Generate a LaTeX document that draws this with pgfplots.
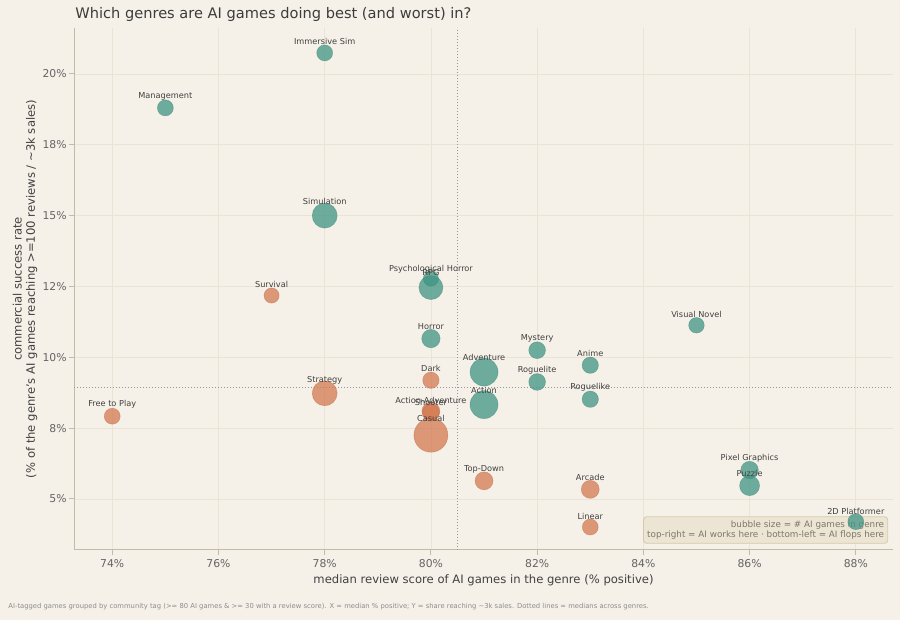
\documentclass[border=0pt]{standalone}
\usepackage{fontspec}
\setmainfont{DejaVu Sans}
\usepackage{pgfplots}
\usepackage{pgfplotstable}
\pgfplotsset{compat=1.18}
\definecolor{bg}{RGB}{246,241,232}
\definecolor{tealc}{RGB}{62,148,132}
\definecolor{orc}{RGB}{212,120,80}
\definecolor{gridc}{RGB}{234,227,214}
\definecolor{spine}{RGB}{196,186,168}
\definecolor{tickc}{RGB}{100,100,100}
\definecolor{labc}{RGB}{64,64,64}
\definecolor{boxfill}{RGB}{237,228,210}
\definecolor{boxdraw}{RGB}{214,200,170}
\definecolor{medc}{RGB}{150,150,150}

\pgfplotstableread[col sep=comma]{
x,y,r,dy,label
78,20.74,4.0,5.6,Immersive Sim
75,18.80,4.0,5.8,Management
78,15.00,6.25,7.1,Simulation
80,12.46,6.0,9.3,Psychological Horror
80,12.78,3.8,2.9,RPG
80,10.66,4.6,5.8,Horror
81,9.48,7.0,7.2,Adventure
81,8.33,7.0,7.0,Action
82,10.25,4.2,5.7,Mystery
82,9.13,4.2,5.7,Roguelite
83,9.72,4.1,5.8,Anime
83,8.52,4.1,5.8,Roguelike
85,11.13,3.9,5.5,Visual Novel
86,6.02,4.4,5.8,Pixel Graphics
86,5.47,5.0,6.3,Puzzle
88,4.20,4.0,5.2,2D Platformer
}\tealdata

\pgfplotstableread[col sep=comma]{
x,y,r,dy,label
77,12.18,3.8,5.6,Survival
78,8.73,6.25,6.5,Strategy
74,7.92,4.0,5.8,Free to Play
80,9.19,4.1,5.8,Dark
80,8.10,4.5,5.5,Action-Adventure
80,8.05,4.2,5.3,Shooter
80,7.25,8.5,8.3,Casual
81,5.64,4.5,5.8,Top-Down
83,5.34,4.5,5.8,Arcade
83,4.01,4.0,5.3,Linear
}\ordata

\begin{document}
\begin{tikzpicture}
\fill[bg] (0,0) rectangle (450pt,310pt);
\begin{axis}[
  at={(37pt,35pt)}, anchor=south west,
  scale only axis, width=409.5pt, height=261pt,
  xmin=73.28, xmax=88.70, ymin=3.20, ymax=21.62,
  axis x line*=bottom, axis y line*=left,
  axis line style={spine, line width=0.5pt, -},
  xtick={74,76,78,80,82,84,86,88},
  xticklabels={74\%,76\%,78\%,80\%,82\%,84\%,86\%,88\%},
  ytick={5,7.5,10,12.5,15,17.5,20},
  yticklabels={5\%,8\%,10\%,12\%,15\%,18\%,20\%},
  tick align=outside, major tick length=2.5pt,
  tick style={spine, line width=0.5pt},
  ticklabel style={font=\fontsize{5.4}{6.5}\selectfont, text=tickc},
  xticklabel style={yshift=1.3pt},
  yticklabel style={xshift=2.3pt},
  grid=major, grid style={gridc, line width=0.4pt},
  /pgf/number format/assume math mode=true,
  clip=false,
]
\addplot[medc, line width=0.5pt, dash pattern=on 0.6pt off 0.9pt] coordinates {(80.5,3.20) (80.5,21.62)};
\addplot[medc, line width=0.5pt, dash pattern=on 0.6pt off 0.9pt] coordinates {(73.28,8.94) (88.70,8.94)};

\addplot[scatter, only marks, mark=*,
  scatter/use mapped color={draw=tealc!85!black, draw opacity=0.4, fill=tealc, fill opacity=0.74},
  visualization depends on={\thisrow{r} \as \rad},
  scatter/@pre marker code/.append style={/tikz/mark size=\rad},
  line width=0.3pt]
  table[x=x, y=y]{\tealdata};
\addplot[scatter, only marks, mark=*,
  scatter/use mapped color={draw=orc!85!black, draw opacity=0.4, fill=orc, fill opacity=0.74},
  visualization depends on={\thisrow{r} \as \rad},
  scatter/@pre marker code/.append style={/tikz/mark size=\rad},
  line width=0.3pt]
  table[x=x, y=y]{\ordata};

\addplot[only marks, mark=none,
  point meta=explicit symbolic,
  visualization depends on={\thisrow{dy} \as \dy},
  nodes near coords,
  every node near coord/.append style={anchor=center, yshift=\dy pt, inner sep=0pt,
    font=\fontsize{4.1}{5}\selectfont, text=labc}]
  table[x=x, y=y, meta=label]{\tealdata};
\addplot[only marks, mark=none,
  point meta=explicit symbolic,
  visualization depends on={\thisrow{dy} \as \dy},
  nodes near coords,
  every node near coord/.append style={anchor=center, yshift=\dy pt, inner sep=0pt,
    font=\fontsize{4.1}{5}\selectfont, text=labc}]
  table[x=x, y=y, meta=label]{\ordata};

\node[anchor=south east, draw=boxdraw, fill=boxfill, fill opacity=0.9, text opacity=1,
  rounded corners=1.5pt, line width=0.4pt, align=right, inner sep=1.8pt,
  font=\fontsize{4.4}{5.4}\selectfont, text={rgb,255:red,125;green,118;blue,106}]
  at (rel axis cs:0.994,0.012) {bubble size = \# AI games in genre\\top-right = AI works here · bottom-left = AI flops here};
\end{axis}
\node[anchor=west, inner sep=0pt, font=\fontsize{7.3}{8.5}\selectfont, text={rgb,255:red,60;green,60;blue,60}] at (37.5pt,303pt) {Which genres are AI games doing best (and worst) in?};
\node[font=\fontsize{5.8}{7}\selectfont, text=labc] at (241.75pt,20pt) {median review score of AI games in the genre (\% positive)};
\node[rotate=90, align=center, font=\fontsize{5.8}{6.6}\selectfont, text=labc] at (12.5pt,165.5pt) {commercial success rate\\(\% of the genre's AI games reaching >=100 reviews / \textasciitilde3k sales)};
\node[anchor=west, inner sep=0pt, font=\fontsize{3.4}{4}\selectfont, text={rgb,255:red,140;green,140;blue,140}] at (4pt,6.5pt) {AI-tagged games grouped by community tag (>= 80 AI games \& >= 30 with a review score). X = median \% positive; Y = share reaching \textasciitilde3k sales. Dotted lines = medians across genres.};
\pgfresetboundingbox
\path (0,0) rectangle (450pt,310pt);
\end{tikzpicture}
\end{document}
